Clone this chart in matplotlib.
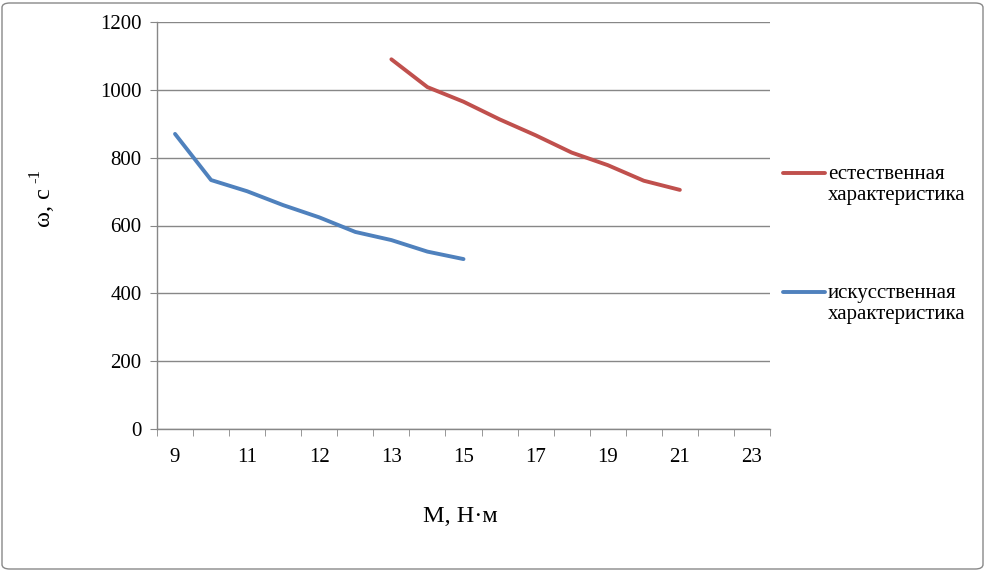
import matplotlib.pyplot as plt
from matplotlib.patches import FancyBboxPatch
from matplotlib.lines import Line2D
import numpy as np

plt.rcParams['font.family'] = ['Liberation Serif', 'DejaVu Serif']

# категории оси X (подписана каждая вторая)
n_cat = 17
tick_labels = ['9', '11', '12', '13', '15', '17', '19', '21', '23']

# естественная характеристика: категории 6..14
nat_start = 6
nat_w = [1090, 1008, 965, 913, 866, 815, 778, 732, 705]
# искусственная характеристика: категории 0..8
art_start = 0
art_w = [870, 734, 701, 660, 624, 581, 557, 523, 501]

series_names = ['естественная\nхарактеристика', 'искусственная\nхарактеристика']

red = '#C0504D'
blue = '#4F81BD'
grid_c = '#878787'
W, H = 986, 571

fig = plt.figure(figsize=(9.86, 5.71), dpi=100)
ax = fig.add_axes([157/W, 1 - 429/H, (770-157)/W, (429-22)/H])

x_nat = np.arange(nat_start, nat_start + len(nat_w))
x_art = np.arange(art_start, art_start + len(art_w))
ax.plot(x_nat, nat_w, color=red, lw=2.8, solid_capstyle='round')
ax.plot(x_art, art_w, color=blue, lw=2.8, solid_capstyle='round')

ax.set_xlim(-0.5, n_cat - 0.5)
ax.set_ylim(0, 1200)
ax.set_yticks(range(0, 1201, 200))
ax.yaxis.grid(True, color=grid_c, lw=1)
ax.set_axisbelow(True)

ax.set_xticks(np.arange(0, n_cat, 2))
ax.set_xticklabels(tick_labels)
ax.set_xticks(np.arange(-0.5, n_cat, 1), minor=True)
ax.tick_params(axis='x', which='major', length=0, pad=14, labelsize=15)
ax.tick_params(axis='x', which='minor', length=5, color=grid_c, direction='out')
ax.tick_params(axis='y', length=5, color=grid_c, direction='out', pad=6, labelsize=15)

for s in ['top', 'right']:
    ax.spines[s].set_visible(False)
for s in ['left', 'bottom']:
    ax.spines[s].set_color(grid_c)
    ax.spines[s].set_linewidth(1)

# подписи осей
fig.text(460/W, 1 - 516/H, 'M, Н·м', ha='center', va='center', fontsize=17.5)
fig.text(45/W, 1 - 208/H, 'ω, с', ha='center', va='center',
         rotation=90, fontsize=17.5)
fig.text(35/W, 1 - 176/H, '-1', ha='center', va='center',
         rotation=90, fontsize=12)

# легенда
leg_y = [173, 292]
for name, col, y in zip(series_names, [red, blue], leg_y):
    fig.add_artist(Line2D([783/W, 825/W], [1 - y/H, 1 - y/H], color=col,
                          lw=2.8, solid_capstyle='round',
                          transform=fig.transFigure))
    fig.text(828/W, 1 - (y + 12)/H, name, ha='left', va='center',
             fontsize=15, linespacing=1.15)

border = FancyBboxPatch((2/W, 2/H), 981/W, 566/H,
                        boxstyle='round,pad=0,rounding_size=0.008',
                        transform=fig.transFigure, fill=False,
                        edgecolor='#888888', lw=1)
fig.patches.append(border)

fig.savefig('out.png', dpi=100)
